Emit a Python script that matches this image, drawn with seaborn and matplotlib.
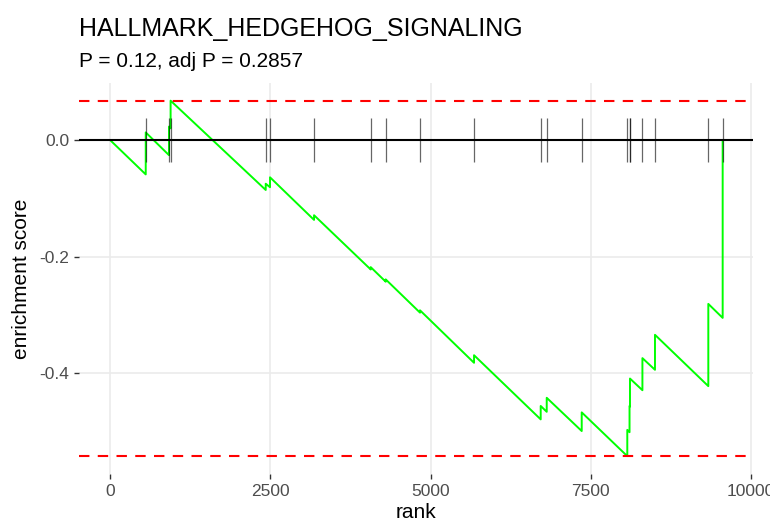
import numpy as np
import pandas as pd
import matplotlib
matplotlib.use("Agg")
import matplotlib.pyplot as plt
import seaborn as sns

# ---------------- data ----------------
title = "HALLMARK_HEDGEHOG_SIGNALING"
subtitle = "P = 0.12, adj P = 0.2857"
x_label = "rank"
y_label = "enrichment score"

start_rank = 0
start_es = 0.0
hit_ranks = [557, 920, 945, 2429, 2496, 3183, 4067, 4301, 4836, 5679,
             6719, 6813, 7359, 8070, 8105, 8112, 8306, 8502, 9334, 9558]
es_before = [-0.059, -0.026, 0.020, -0.0857, -0.081, -0.137, -0.222, -0.243,
             -0.296, -0.382, -0.479, -0.466, -0.499, -0.542, -0.501, -0.457,
             -0.429, -0.394, -0.422, -0.305]
es_after = [0.013, 0.023, 0.0674, -0.075, -0.064, -0.129, -0.218, -0.239,
            -0.292, -0.369, -0.456, -0.442, -0.467, -0.497, -0.456, -0.409,
            -0.374, -0.334, -0.281, 0.0]
hit_tick_half = 0.037

x_ticks = [0, 2500, 5000, 7500, 10000]
x_tick_labels = ["0", "2500", "5000", "7500", "10000"]
y_ticks = [-0.4, -0.2, 0.0]
y_tick_labels = ["-0.4", "-0.2", "0.0"]

# ---------------- build the running-sum curve table ----------------
ranks = [start_rank]
scores = [start_es]
for r, b, a in zip(hit_ranks, es_before, es_after):
    ranks += [r, r]
    scores += [b, a]
df = pd.DataFrame({"rank": ranks, "es": scores})

es_max = max(scores)
es_min = min(scores)

# ---------------- style ----------------
sns.set_theme(style="white")
plt.rcParams["font.family"] = ["Liberation Sans", "DejaVu Sans"]

W, H = 770, 527
fig = plt.figure(figsize=(W / 100, H / 100), dpi=100)

# panel in pixels
px_left, px_right, px_top, px_bottom = 79.4, 753.3, 82.9, 473.9
ax = fig.add_axes([px_left / W, 1 - px_bottom / H,
                   (px_right - px_left) / W, (px_bottom - px_top) / H])

# limits with ggplot-like 5% expansion
xr = max(ranks) - min(ranks)
ax.set_xlim(min(ranks) - 0.05 * xr, max(ranks) + 0.05 * xr)
ylo = min(es_min, -hit_tick_half)
yhi = max(es_max, hit_tick_half)
yr = yhi - ylo
ax.set_ylim(ylo - 0.05 * yr, yhi + 0.05 * yr)

# grid
ax.set_axisbelow(True)
ax.grid(True, which="major", color="#EBEBEB", linewidth=1.2)
for s in ax.spines.values():
    s.set_visible(False)

# curve
sns.lineplot(data=df, x="rank", y="es", sort=False, estimator=None,
             color="#00FF00", linewidth=1.4, ax=ax, zorder=3)

# zero line
ax.axhline(0, color="black", linewidth=1.5, zorder=4)
# hit ticks
ax.vlines(hit_ranks, -hit_tick_half, hit_tick_half, color="black",
          alpha=0.6, linewidth=0.9, zorder=5)
# max / min dashed lines
ax.axhline(es_max, color="#FF0000", linewidth=1.5, linestyle=(0, (5, 4)), zorder=6)
ax.axhline(es_min, color="#FF0000", linewidth=1.5, linestyle=(0, (5, 4)), zorder=6)

# ticks
ax.set_xticks(x_ticks)
ax.set_xticklabels(x_tick_labels)
ax.set_yticks(y_ticks)
ax.set_yticklabels(y_tick_labels)
ax.tick_params(axis="both", which="major", length=3.6, width=1.0,
               color="#333333", labelcolor="#4D4D4D", labelsize=12.5, pad=3.5,
               bottom=True, left=True)

ax.set_xlabel(x_label, fontsize=15, color="black", labelpad=3)
ax.set_ylabel(y_label, fontsize=15, color="black", labelpad=6)

# title & subtitle, left aligned with panel
fig.text(px_left / W, 1 - 36 / H, title, fontsize=18, color="black",
         ha="left", va="baseline")
fig.text(px_left / W, 1 - 67 / H, subtitle, fontsize=15, color="black",
         ha="left", va="baseline")

fig.savefig("out.png", dpi=100)
